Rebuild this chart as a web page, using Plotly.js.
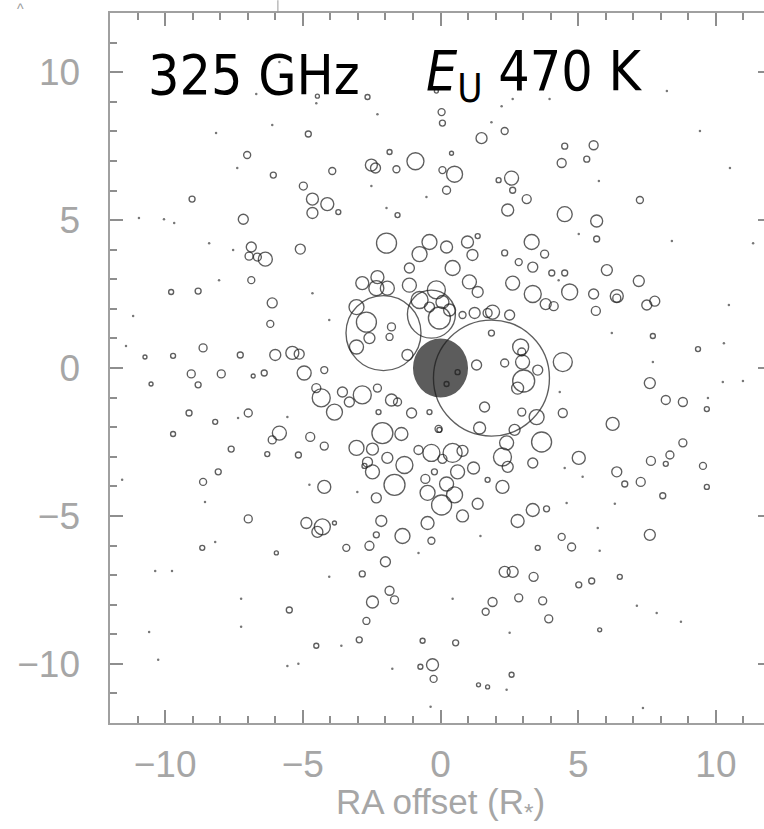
<!DOCTYPE html>
<html>
<head>
<meta charset="utf-8">
<script src="https://cdn.plot.ly/plotly-3.0.1.min.js"></script>
<style>
  html, body { margin: 0; padding: 0; background: #ffffff; overflow: hidden; }
  #plot { width: 780px; height: 829px; }
</style>
</head>
<body>
<div id="plot"></div>
<script>
// ---- Maser spots: RA offset (R*), Dec offset (R*), peak flux (arbitrary) ----
const raOffset = [
  -4.47,-4.80,-7.02,-6.07,-3.93,-4.98,-4.65,-4.11,-3.71,-4.65,-9.02,-7.16,-6.87,-6.95,-6.65,-6.36,-5.09,-6.87,
  -2.65,-0.15,0.04,0.07,1.49,2.33,-1.85,-0.91,0.40,-2.51,-2.36,-1.60,0.07,0.51,0.22,2.11,2.58,2.62,2.44,-1.56,
  -1.96,-0.40,0.22,0.98,1.35,4.51,5.56,4.40,5.31,3.13,4.51,5.67,5.67,7.24,3.31,3.78,2.33,2.84,3.35,4.04,4.51,
  6.04,7.20,2.62,3.35,3.82,4.11,4.69,5.56,5.64,6.40,6.40,7.49,7.78,7.71,9.35,4.44,7.60,2.51,2.91,2.95,2.98,
  2.33,3.02,2.80,3.53,-0.76,-1.13,0.44,1.16,1.35,1.05,1.89,1.71,1.24,-3.05,-2.69,-2.84,-2.29,-1.93,-2.33,
  -1.13,-0.76,-0.15,0.07,0.33,-0.40,-0.04,-1.78,-1.85,-2.58,-3.05,-1.20,0.80,1.85,1.31,0.62,0.22,-3.56,-2.84,
  -2.29,-1.78,-1.56,-1.05,-0.40,-0.04,1.60,2.95,3.49,4.44,3.67,1.42,2.69,-2.11,-1.42,-3.85,-3.31,9.67,6.25,
  2.40,2.25,2.44,3.35,5.02,6.40,7.64,8.33,8.80,8.18,7.27,6.69,8.07,9.53,9.67,-0.33,0.44,0.80,0.07,-0.22,0.62,
  1.20,-0.55,0.22,0.51,-0.47,0.04,1.35,0.80,2.25,1.71,3.35,3.85,2.80,-0.47,-0.33,-0.07,4.40,4.76,3.53,7.60,
  2.33,2.62,3.38,5.02,5.49,6.51,1.89,1.64,2.84,3.71,3.93,5.78,0.55,-0.65,-0.29,-0.25,2.58,1.38,1.71,8.18,8.80,
  -9.13,-8.18,-6.98,-9.71,-7.60,-5.85,-6.11,-4.73,-4.22,-6.29,-5.16,-2.25,-3.05,-2.47,-1.93,-1.31,-2.65,-2.47,
  -2.76,-0.80,-1.67,-4.22,-2.33,-8.62,-8.07,-6.98,-4.87,-4.29,-4.47,-3.85,-2.15,-1.38,-2.33,-2.58,-3.42,-8.65,
  -2.00,-2.84,-1.85,-1.67,-2.47,-5.49,-2.69,-2.95,-4.51,-0.73,-5.96,-8.80,-9.78,-6.11,-6.18,-8.62,-9.71,-10.73,
  -7.27,-6.00,-5.38,-5.13,-4.95,-4.22,-9.05,-7.96,-8.80,-10.51,-6.80,-6.40,-4.51,-4.33,
  -2.07,-0.33,1.85
];
const decOffset = [
  9.19,7.91,7.20,6.52,6.66,6.15,5.71,5.54,5.27,5.24,5.71,5.03,4.09,3.78,3.75,3.68,4.02,2.97,
  9.16,9.36,8.65,8.28,7.77,8.01,7.30,6.99,7.26,6.86,6.76,6.72,6.69,6.55,6.01,6.35,6.42,6.01,5.34,5.17,
  4.22,4.26,4.09,4.26,4.46,7.50,7.53,6.93,7.06,5.71,5.20,4.97,4.36,5.68,4.26,3.85,3.89,3.58,3.41,3.21,3.21,
  3.31,2.94,2.87,2.50,2.16,2.09,2.57,2.50,1.93,2.43,2.36,2.13,2.26,1.08,0.64,0.20,-0.51,1.79,0.71,0.54,0.20,
  0.17,-0.44,-0.68,-0.07,3.85,3.38,3.38,3.82,2.57,2.91,1.89,1.86,1.86,2.06,1.55,2.87,3.07,2.70,2.70,
  2.80,2.30,2.64,2.23,1.96,2.06,1.69,1.39,1.05,1.01,0.71,0.44,1.79,1.18,0.10,-0.14,-0.54,-0.81,-0.91,
  -0.68,-1.08,-1.15,-1.52,-1.49,-2.09,-1.32,-1.49,-1.66,-1.52,-2.50,-2.03,-2.09,-2.20,-2.23,-1.49,-1.15,-1.39,-1.89,
  -2.53,-3.01,-3.34,-3.21,-3.04,-3.51,-3.14,-2.94,-2.53,-3.24,-3.85,-3.92,-4.32,-3.31,-4.02,-2.87,-2.87,-2.80,-3.07,-3.51,-3.51,
  -3.38,-3.75,-3.92,-4.29,-4.22,-4.63,-4.59,-5.00,-4.02,-3.78,-4.80,-4.76,-5.17,-5.24,-5.84,-2.06,-5.71,-6.05,-6.08,-5.64,
  -6.89,-6.89,-7.06,-7.33,-7.20,-7.06,-7.91,-8.24,-7.77,-7.87,-8.48,-8.85,-9.29,-9.22,-10.03,-10.51,-10.37,-10.71,-10.78,-1.08,-1.15,
  -1.52,-1.82,-1.52,-2.23,-2.74,-2.20,-2.43,-2.33,-2.64,-2.91,-2.94,-1.49,-2.70,-2.74,-3.04,-3.28,-3.18,-3.51,
  -3.31,-2.77,-3.95,-4.02,-4.39,-3.85,-3.51,-5.10,-5.24,-5.37,-5.54,-5.24,-5.17,-5.68,-5.64,-6.01,-6.08,-6.08,
  -6.55,-6.96,-7.53,-7.84,-7.91,-8.18,-8.55,-9.19,-9.39,-10.10,-6.25,2.60,2.57,2.20,1.49,0.68,0.41,0.37,
  0.44,0.44,0.51,0.47,-0.17,-0.07,-0.20,-0.20,-0.57,-0.54,-0.27,-0.17,-0.68,-1.01,
  1.18,1.82,-0.34
];
const peakFlux = [
  0.4,0.6,0.7,0.6,0.7,0.8,1.2,1.3,0.5,1.1,0.6,1.0,1.0,0.8,0.8,1.4,1.0,0.7,
  0.5,0.4,0.7,0.6,1.1,0.7,0.5,1.7,0.4,1.2,1.0,0.7,0.7,1.6,0.8,0.5,1.4,0.6,1.2,0.5,
  2.0,1.5,1.2,1.2,0.5,0.6,0.9,0.9,0.6,0.9,1.5,1.2,0.6,0.7,1.5,0.8,0.6,0.7,1.0,0.6,0.6,
  1.1,1.1,1.4,1.7,1.1,0.9,1.6,1.0,0.9,1.3,0.8,1.0,1.0,0.5,0.5,1.9,1.1,1.0,1.6,0.8,1.4,
  0.8,2.2,1.2,1.0,1.5,1.0,1.5,1.1,1.1,1.4,1.4,0.9,1.1,1.5,2.0,1.3,1.3,1.4,1.5,
  1.4,1.7,1.8,1.3,1.2,1.0,2.2,0.8,0.7,1.1,1.4,1.1,0.7,0.6,1.0,0.5,0.5,1.0,1.8,
  0.8,1.2,0.8,1.0,0.5,0.5,1.0,0.8,1.5,0.9,2.0,1.2,1.1,2.1,1.3,1.6,1.0,0.5,1.3,
  1.4,1.8,1.1,1.0,1.3,1.0,0.9,0.8,0.8,0.5,0.9,0.6,0.6,0.7,0.5,1.7,1.9,1.1,0.9,0.6,1.4,
  1.2,0.9,1.4,1.6,1.5,2.0,1.1,1.2,1.3,0.5,1.3,0.6,1.3,1.3,0.7,0.7,0.7,0.8,0.5,1.1,
  1.1,1.1,0.9,0.6,0.6,0.5,0.9,0.7,0.8,0.8,0.8,0.4,0.6,0.5,1.2,0.7,0.5,0.4,0.4,0.9,0.9,
  0.6,0.5,0.8,0.5,0.6,1.4,0.8,0.9,0.8,0.5,0.6,0.5,1.5,1.2,1.1,1.7,1.0,1.4,
  0.5,0.9,2.1,1.3,1.0,0.7,0.6,0.8,1.1,1.6,1.1,0.4,1.1,1.5,0.6,0.9,0.7,0.5,
  1.0,0.6,0.9,0.8,1.2,0.6,0.7,0.6,0.5,0.5,0.4,0.6,0.5,1.0,0.7,0.8,0.5,0.4,
  0.6,1.1,1.3,1.0,1.4,0.7,0.8,0.8,0.6,0.4,0.4,0.6,0.9,1.8,
  7.5,4.8,11.6
];
// ---- Weak (point-like) spots ----
const weakRa = [
  -4.51,-7.38,-10.95,-10.04,-9.67,2.62,1.85,-1.96,5.75,8.40,5.02,10.29,10.98,10.47,11.35,9.42,10.51,7.13,
  2.40,-4.76,-3.02,-8.55,-8.18,-0.80,-4.04,-7.24,-1.75,-0.36,-10.36,-9.75,-11.16,-11.42,-4.65,0.44,2.51,-11.56,
  -3.60,7.85,8.73,5.78,1.45,4.51,5.16,4.58,5.71,6.33,7.35,4.29,3.96,8.22,6.22,7.71,4.33,9.71,10.25,
  -8.40,-8.04,-7.53,-4.04,-5.56,-7.35,-2.29,-0.51,-2.51,2.22,-6.69,-5.85,-6.11,-8.15,-10.58,-5.56,-5.16,-7.24,-10.25
];
const weakDec = [
  8.95,6.76,5.07,5.03,4.90,9.09,8.31,5.41,6.32,4.29,4.53,0.84,-0.44,2.13,4.22,8.01,6.76,-8.04,
  -10.88,-3.95,-4.19,-4.53,-5.88,-6.25,-7.06,-7.80,-10.17,-11.45,-6.86,-6.86,1.76,0.74,2.53,-7.80,-8.95,-3.78,
  -9.39,-8.28,-8.58,-6.18,-5.68,-3.38,-3.68,-4.56,-5.41,-4.59,-11.49,2.97,9.09,9.36,1.18,0.20,-0.81,-1.01,-0.47,
  4.22,2.97,3.99,1.62,-1.66,-1.69,8.58,5.78,6.15,8.85,9.26,10.34,8.21,7.94,-8.92,-10.07,-10.00,-8.75,-9.86
];
const starRadius = 1.0;   // stellar disk, R*
const axisRange = [-12, 12];
const majorStep = 5;
const minorStep = 1;

const labelGrey = '#a6a6a6';
const tickGrey = '#8e8e8e';
const tickFont = { family: '"Liberation Sans Narrow", "Liberation Sans", sans-serif', size: 37, color: labelGrey };

function frameAxis(extra) {
  return Object.assign({
    range: axisRange.slice(), showgrid: false, zeroline: false,
    showline: true, linecolor: '#a0a0a0', linewidth: 2, mirror: 'ticks',
    ticks: 'inside', ticklen: 13, tickwidth: 1.6, tickcolor: tickGrey,
    dtick: majorStep, tickfont: tickFont,
    minor: { dtick: minorStep, ticks: 'inside', ticklen: 7, tickwidth: 1.6, tickcolor: tickGrey }
  }, extra);
}

const spots = {
  type: 'scatter', mode: 'markers', x: raOffset, y: decOffset, hoverinfo: 'skip',
  marker: { symbol: 'circle-open', size: peakFlux.map(f => f * 10), color: '#1a1a1a', line: { width: 1.35, color: '#1a1a1a' } }
};
const weak = {
  type: 'scatter', mode: 'markers', x: weakRa, y: weakDec, hoverinfo: 'skip',
  marker: { symbol: 'circle', size: 2.5, color: '#777777' }
};

const layout = {
  width: 780, height: 829,
  margin: { l: 110, r: 9, t: 13, b: 106 },
  showlegend: false,
  xaxis: frameAxis({ ticklabelstandoff: 8 }),
  yaxis: frameAxis({ ticksuffix: '\u00a0\u00a0' }),
  shapes: [
    { type: 'circle', xref: 'x', yref: 'y', x0: -starRadius, x1: starRadius, y0: -starRadius, y1: starRadius,
      fillcolor: '#5c5c5c', line: { width: 0 }, layer: 'below' },
    { type: 'line', xref: 'paper', yref: 'paper', x0: 0.254, x1: 0.254, y0: 1, y1: 1.018, line: { color: '#9a9a9a', width: 1 } }
  ],
  annotations: [
    { xref: 'paper', yref: 'paper', x: 0.055, y: 0.913, xanchor: 'left', yanchor: 'middle', showarrow: false,
      text: '325 GHz', font: { family: '"DejaVu Sans Condensed", "Liberation Sans Narrow", sans-serif', size: 55, color: '#000000' } },
    { xref: 'paper', yref: 'paper', x: 0.475, y: 0.913, xanchor: 'left', yanchor: 'middle', showarrow: false,
      text: '<i>E</i><sub>U</sub> 470 K', font: { family: '"DejaVu Sans Condensed", "Liberation Sans Narrow", sans-serif', size: 55, color: '#000000' } },
    { xref: 'paper', yref: 'paper', x: 0.5, y: -0.1465, xanchor: 'center', yanchor: 'bottom', showarrow: false, borderpad: 0,
      text: 'RA offset (R<sub>*</sub>)', font: { family: tickFont.family, size: 35, color: labelGrey } },
    { xref: 'paper', yref: 'paper', x: -0.136, y: 1.006, xanchor: 'center', yanchor: 'middle', showarrow: false,
      text: '^', font: { family: 'Liberation Sans, sans-serif', size: 14, color: '#9a9a9a' } }
  ]
};

Plotly.newPlot('plot', [spots, weak], layout, { displayModeBar: false });
</script>
</body>
</html>
